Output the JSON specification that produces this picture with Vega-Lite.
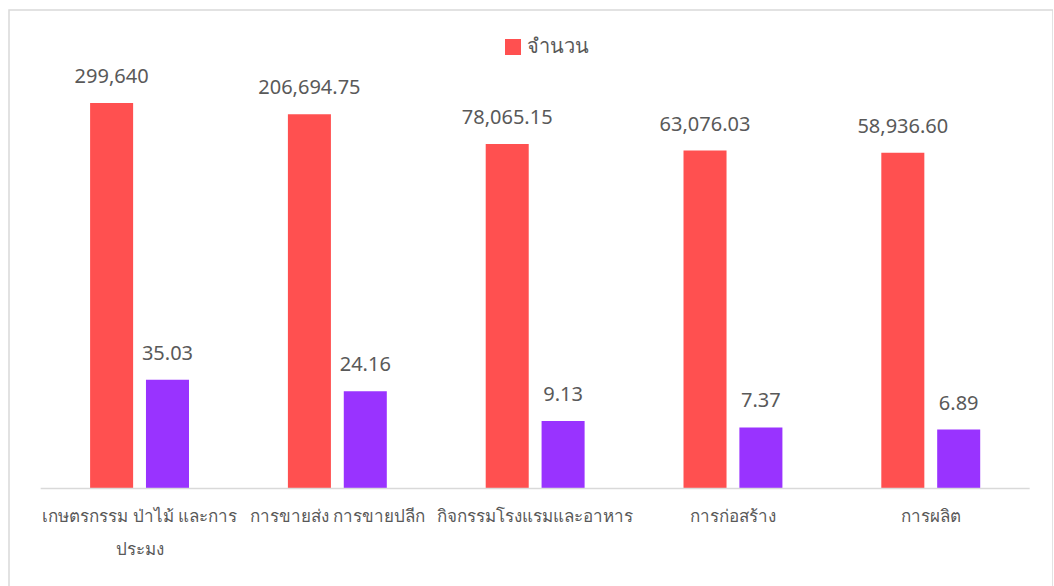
{
  "$schema": "https://vega.github.io/schema/vega-lite/v6.json",
  "width": 1044,
  "height": 590,
  "autosize": {"type": "none"},
  "padding": {"left": 9, "top": 10, "right": 0, "bottom": 0},
  "background": "white",
  "config": {"view": {"stroke": "#d9d9d9", "strokeWidth": 1.5}, "font": "Noto Sans"},
  "data": {"values": [
    {"cat": "เกษตรกรรม ป่าไม้ และการประมง", "series": "จำนวน", "value": 299640, "label": "299,640"},
    {"cat": "เกษตรกรรม ป่าไม้ และการประมง", "series": "ร้อยละ", "value": 35.03, "label": "35.03"},
    {"cat": "การขายส่ง การขายปลีก", "series": "จำนวน", "value": 206694.75, "label": "206,694.75"},
    {"cat": "การขายส่ง การขายปลีก", "series": "ร้อยละ", "value": 24.16, "label": "24.16"},
    {"cat": "กิจกรรมโรงแรมและอาหาร", "series": "จำนวน", "value": 78065.15, "label": "78,065.15"},
    {"cat": "กิจกรรมโรงแรมและอาหาร", "series": "ร้อยละ", "value": 9.13, "label": "9.13"},
    {"cat": "การก่อสร้าง", "series": "จำนวน", "value": 63076.03, "label": "63,076.03"},
    {"cat": "การก่อสร้าง", "series": "ร้อยละ", "value": 7.37, "label": "7.37"},
    {"cat": "การผลิต", "series": "จำนวน", "value": 58936.60, "label": "58,936.60"},
    {"cat": "การผลิต", "series": "ร้อยละ", "value": 6.89, "label": "6.89"}
  ]},
  "layer": [
    {
      "mark": {"type": "bar"},
      "encoding": {
        "x": {"field": "cat", "type": "nominal", "sort": null,
          "scale": {"paddingInner": 0.5, "paddingOuter": 0.389, "align": 0.527},
          "axis": {"title": null, "orient": "bottom", "offset": -111.5, "domain": false, "ticks": false,
            "labelFontSize": 17, "labelColor": "#595959", "labelPadding": 20, "labelAngle": 0, "labelLimit": 0,
            "labelLineHeight": 33,
            "labelExpr": "datum.value == 'เกษตรกรรม ป่าไม้ และการประมง' ? ['เกษตรกรรม ป่าไม้ และการ', 'ประมง'] : datum.value"}},
        "xOffset": {"field": "series", "type": "nominal", "sort": null, "scale": {"paddingInner": 0.23, "paddingOuter": 0}},
        "y": {"field": "value", "type": "quantitative", "scale": {"type": "log", "domain": [0.0261, 6270000], "nice": false}, "axis": null},
        "y2": {"datum": 1},
        "color": {"field": "series", "type": "nominal", "sort": null,
          "scale": {"domain": ["จำนวน", "ร้อยละ"], "range": ["#FF5050", "#9933FF"]},
          "legend": {"values": ["จำนวน"], "title": null, "orient": "none", "legendX": 494, "legendY": 27,
            "symbolType": "square", "symbolSize": 256, "symbolStrokeWidth": 0, "labelFontSize": 20, "labelColor": "#595959"}}
      }
    },
    {
      "mark": {"type": "text", "dy": -20, "baseline": "alphabetic", "fontSize": 20, "color": "#595959"},
      "encoding": {
        "x": {"field": "cat", "type": "nominal", "sort": null},
        "xOffset": {"field": "series", "type": "nominal", "sort": null},
        "y": {"field": "value", "type": "quantitative"},
        "text": {"field": "label"}
      }
    },
    {
      "data": {"values": [{"a": 1}]},
      "mark": {"type": "rule", "color": "#d9d9d9", "strokeWidth": 1.5},
      "encoding": {
        "x": {"datum": "เกษตรกรรม ป่าไม้ และการประมง", "type": "nominal", "bandPosition": -0.5},
        "x2": {"datum": "การผลิต", "bandPosition": 1.5},
        "y": {"datum": 1, "type": "quantitative"}
      }
    }
  ]
}
